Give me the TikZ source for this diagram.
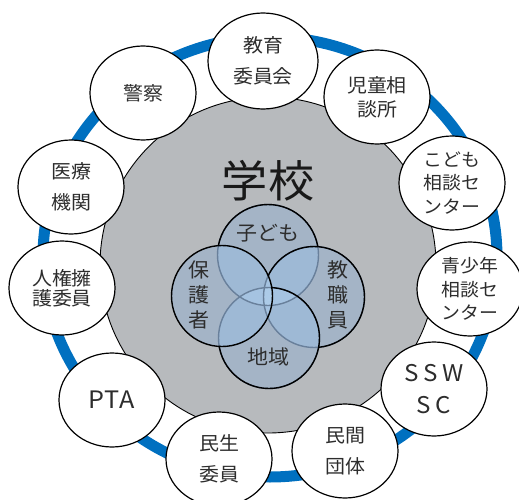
\documentclass[tikz,border=0pt]{standalone}
\usepackage{fontspec}
\setmainfont{Noto Sans CJK JP}[FakeStretch=1.05]
\usetikzlibrary{shapes.geometric}
\definecolor{ringblue}{RGB}{0,112,192}
\definecolor{schoolgray}{RGB}{183,186,189}
\definecolor{vsingle}{RGB}{164,180,198}
\definecolor{vdouble}{RGB}{158,185,213}
\definecolor{vtriple}{RGB}{165,195,225}
\definecolor{vquad}{RGB}{172,203,232}
\definecolor{vfade}{RGB}{105,128,155}
\definecolor{txt}{RGB}{45,45,45}
\begin{document}
\begin{tikzpicture}[x=1pt,y=-1pt,
  org/.style={ellipse, draw=black, line width=1.2pt, fill=white,
    minimum width=106pt, minimum height=94pt, inner sep=0pt,
    font=\fontsize{19}{31}\selectfont, text=txt, align=center},
  orgthree/.style={org, font=\fontsize{18}{23.5}\selectfont},
  vennc/.style={circle, line width=1.4pt, minimum size=101pt, inner sep=0pt},
  vline/.style={line width=1.4pt, draw=black},
  vlabel/.style={font=\fontsize{20}{25}\selectfont, text=txt, align=center, inner sep=0pt},
]
\useasboundingbox (0,0) rectangle (519,500);
% blue ring
\draw[ringblue, line width=11pt] (270,257) ellipse [x radius=227, y radius=220];
% school
\node[circle, draw=black, line width=0.9pt, fill=schoolgray, minimum size=336pt, inner sep=0pt] (school) at (268,265) {};
\node[font=\fontsize{44}{50}\selectfont, text=black!90, inner sep=0pt] (schoolT) at (268,181) {学校};
% venn centres
\coordinate (cK) at (268,255);
\coordinate (cS) at (314,297);
\coordinate (cC) at (269,338);
\coordinate (cH) at (222,296);
\def\vr{50.5pt}
% fills
\foreach \p in {cK,cS,cC,cH} \fill[vsingle] (\p) circle [radius=\vr];
\foreach \a/\b in {cK/cS,cK/cC,cK/cH,cS/cC,cS/cH,cC/cH} {
  \begin{scope}
    \clip (\a) circle [radius=\vr];
    \fill[vdouble] (\b) circle [radius=\vr];
  \end{scope}
}
\foreach \a/\b/\c in {cK/cS/cC,cK/cS/cH,cK/cC/cH,cS/cC/cH} {
  \begin{scope}
    \clip (\a) circle [radius=\vr];
    \clip (\b) circle [radius=\vr];
    \fill[vtriple] (\c) circle [radius=\vr];
  \end{scope}
}
\begin{scope}
  \clip (cK) circle [radius=\vr];
  \clip (cS) circle [radius=\vr];
  \clip (cC) circle [radius=\vr];
  \fill[vquad] (cH) circle [radius=\vr];
\end{scope}
% outlines (faded where covered by later circles)
\node[vennc, draw=vfade] (kodomo) at (cK) {};
\node[vennc, draw=vfade] (kyoshoku) at (cS) {};
\node[vennc, draw=vfade] (chiiki) at (cC) {};
\node[vennc, draw=black] (hogosha) at (cH) {};
\begin{scope}[even odd rule]
  \clip (-20,-20) rectangle (540,520) (cS) circle [radius=\vr];
  \clip (-20,-20) rectangle (540,520) (cC) circle [radius=\vr];
  \clip (-20,-20) rectangle (540,520) (cH) circle [radius=\vr];
  \draw[vline] (cK) circle [radius=\vr];
\end{scope}
\begin{scope}[even odd rule]
  \clip (-20,-20) rectangle (540,520) (cC) circle [radius=\vr];
  \clip (-20,-20) rectangle (540,520) (cH) circle [radius=\vr];
  \draw[vline] (cS) circle [radius=\vr];
\end{scope}
\begin{scope}[even odd rule]
  \clip (-20,-20) rectangle (540,520) (cH) circle [radius=\vr];
  \draw[vline] (cC) circle [radius=\vr];
\end{scope}
\node[vlabel] (kodomoT) at (268,233) {子ども};
\node[vlabel] (hogoshaT) at (199,295) {保\\護\\者};
\node[vlabel] (kyoshokuT) at (338,295) {教\\職\\員};
\node[vlabel] (chiikiT) at (268,357) {地域};
% organisations
\node[org, minimum width=110pt, minimum height=96pt] (kyoiku) at (263,61) {教育\\委員会};
\node[org, font=\fontsize{19}{24}\selectfont] (jido) at (377,97) {児童相\\談所};
\node[orgthree] (kodomoC) at (452,183) {こども\\相談セ\\ンター};
\node[orgthree] (seishonen) at (470,289) {青少年\\相談セ\\ンター};
\node[org, font=\fontsize{23}{32}\selectfont\addfontfeature{LetterSpace=20}] (ssw) at (434,389) {SSW\\SC};
\node[org] (minkan) at (345,451) {民間\\団体};
\node[org] (minsei) at (219,459) {民生\\委員};
\node[org, font=\fontsize{24}{30}\selectfont\addfontfeature{LetterSpace=4}] (pta) at (112,400) {PTA};
\node[org, font=\fontsize{19}{20}\selectfont] (jinken) at (62,288) {人権擁\\護委員};
\node[org] (iryo) at (71,187) {医療\\機関};
\node[org] (keisatsu) at (143,93) {警察};
\end{tikzpicture}
\end{document}
